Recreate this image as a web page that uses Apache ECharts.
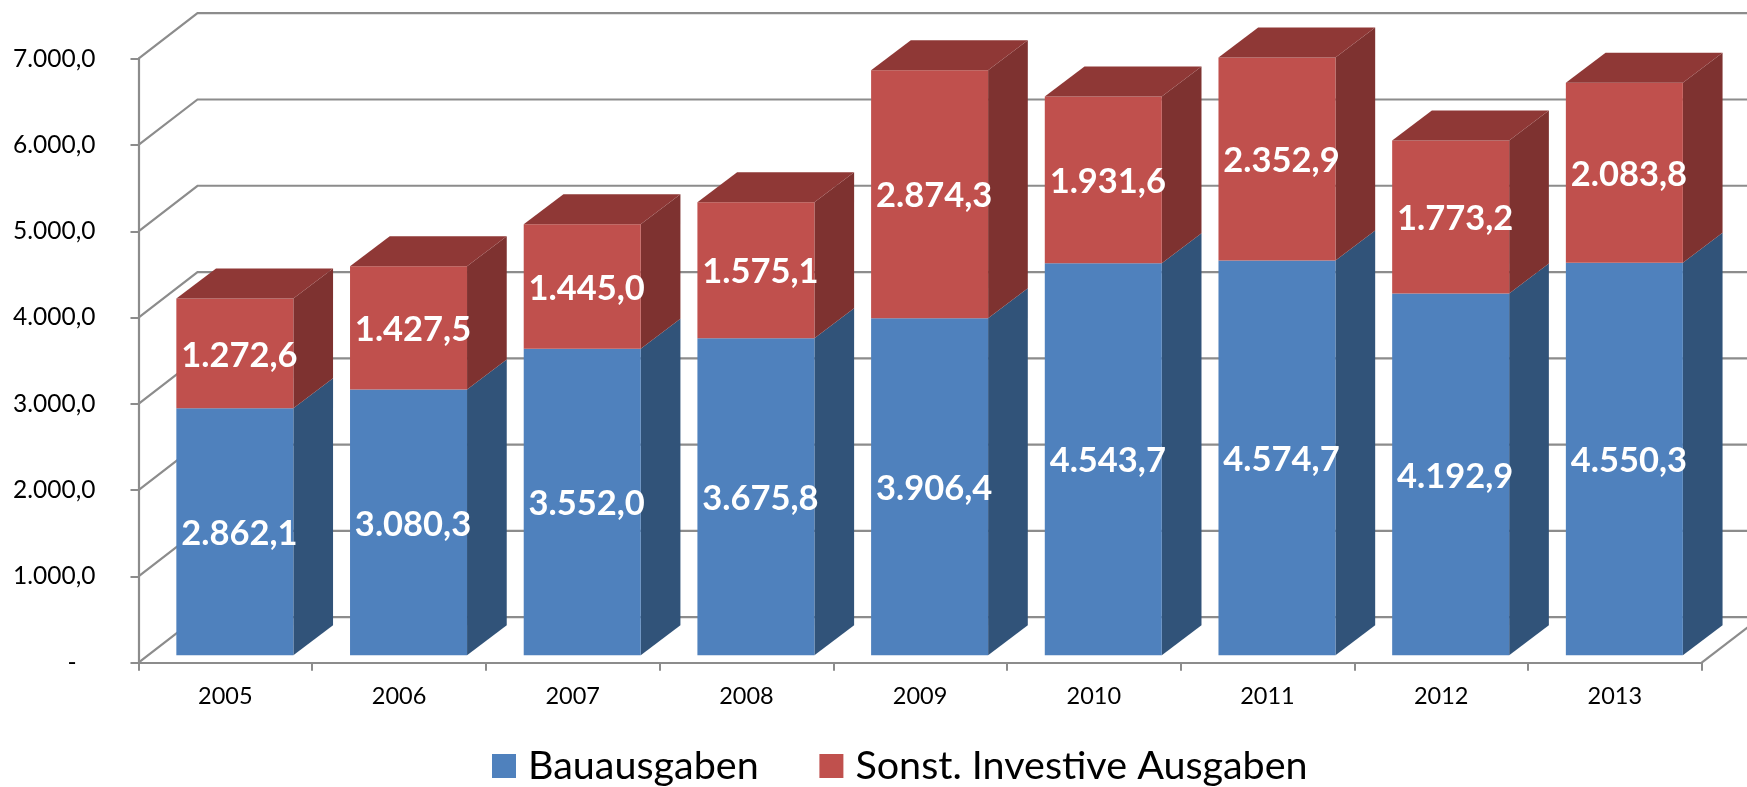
<!DOCTYPE html>
<html>
<head>
<meta charset="utf-8">
<style>html,body{margin:0;padding:0;background:#fff}#c{width:1747px;height:787px}</style>
<script src="https://cdn.jsdelivr.net/npm/echarts@6/dist/echarts.min.js"></script>
</head>
<body>
<div id="c"></div>
<script>
const categories = ['2005','2006','2007','2008','2009','2010','2011','2012','2013'];
const bauausgaben = [2862.1,3080.3,3552.0,3675.8,3906.4,4543.7,4574.7,4192.9,4550.3];
const sonstige = [1272.6,1427.5,1445.0,1575.1,2874.3,1931.6,2352.9,1773.2,2083.8];
const yTicks = [0,1000,2000,3000,4000,5000,6000,7000];
const yTickLabels = ['-   ','1.000,0','2.000,0','3.000,0','4.000,0','5.000,0','6.000,0','7.000,0'];

const FONT = 'Lato, Carlito, "Open Sans", sans-serif';
const GRAY = '#8c8c8c';
const WALL_DX = 59, WALL_DY = -45.5;      // depth of the chart box
const BAR_DX = 9.5, BAR_DY = -7.4;        // front face inset from the front plane
const DEPTH_DX = 39.7, DEPTH_DY = -30;    // depth of a bar
const BAR_W = 117;

function fmt(v){
  const s = v.toFixed(1).split('.');
  return s[0].replace(/\B(?=(\d{3})+$)/g,'.') + ',' + s[1];
}

function barRenderer(front, side, top, showTop){
  return function(params, api){
    const cat = api.value(0), base = api.value(1), val = api.value(2);
    const c0 = api.coord([cat, base]);
    const c1 = api.coord([cat, base + val]);
    const x0 = c0[0] + BAR_DX - BAR_W/2, x1 = x0 + BAR_W;
    const yb = c0[1] + BAR_DY, yt = c1[1] + BAR_DY;
    const kids = [
      {type:'polygon', shape:{points:[[x1,yb],[x1+DEPTH_DX,yb+DEPTH_DY],[x1+DEPTH_DX,yt+DEPTH_DY],[x1,yt]]}, style:{fill:side}},
      {type:'polygon', shape:{points:[[x0,yb],[x1,yb],[x1,yt],[x0,yt]]}, style:{fill:front}}
    ];
    if (showTop) kids.push({type:'polygon', shape:{points:[[x0,yt],[x1,yt],[x1+DEPTH_DX,yt+DEPTH_DY],[x0+DEPTH_DX,yt+DEPTH_DY]]}, style:{fill:top}});
    kids.push({type:'text', style:{x:(x0+x1)/2+4.5, y:(yb+yt)/2+2, text:fmt(val), fill:'#fff', align:'center', verticalAlign:'middle', font:'bold 34.5px '+FONT}});
    return {type:'group', children:kids};
  };
}

const wallRenderer = function(params, api){
  const v = api.value(0);
  const left = api.coord([0, v]);
  const size = api.size([1, 0]);
  const x0 = left[0] - size[0]/2;
  const xEnd = x0 + size[0]*categories.length;
  const lineStyle = {stroke:GRAY, lineWidth:2.2, fill:'none'};
  const kids = [
    {type:'polyline', shape:{points:[[x0,left[1]],[x0+WALL_DX,left[1]+WALL_DY],[xEnd+WALL_DX,left[1]+WALL_DY]]}, style:lineStyle}
  ];
  if (v === 0) kids.push({type:'line', shape:{x1:xEnd,y1:left[1],x2:xEnd+WALL_DX,y2:left[1]+WALL_DY}, style:lineStyle});
  return {type:'group', children:kids};
};

const chart = echarts.init(document.getElementById('c'), null, {renderer:'canvas'});
chart.setOption({
  animation:false,
  backgroundColor:'#fff',
  grid:{left:138.5, right:45.3, top:58.7, bottom:124.3, containLabel:false},
  legend:{
    left:487, top:741, itemWidth:24, itemHeight:24, itemGap:60.7, icon:'rect',
    data:['Bauausgaben','Sonst. Investive Ausgaben'],
    textStyle:{fontFamily:FONT, fontSize:39.5, color:'#000', padding:[0,0,0,7]}
  },
  xAxis:{
    type:'category', data:categories, boundaryGap:true,
    axisLine:{lineStyle:{color:GRAY,width:2.2}},
    axisTick:{show:true,alignWithLabel:false,length:8,lineStyle:{color:GRAY,width:2}},
    axisLabel:{fontFamily:FONT,fontSize:23.5,color:'#000',margin:22,interval:0}
  },
  yAxis:{
    type:'value', min:0, max:7000, interval:1000,
    axisLine:{show:true,lineStyle:{color:GRAY,width:2.2}},
    axisTick:{show:true,length:8,lineStyle:{color:GRAY,width:2}},
    splitLine:{show:false},
    axisLabel:{fontFamily:FONT,fontSize:24.5,color:'#000',margin:43,padding:[2,0,0,0],
      formatter:function(v){return yTickLabels[yTicks.indexOf(v)];}}
  },
  series:[
    {type:'custom', name:'wall', silent:true, clip:false, z:1, renderItem:wallRenderer,
      data:yTicks.map(v=>[v]), encode:{y:0}},
    {type:'custom', name:'Bauausgaben', clip:false, z:2, itemStyle:{color:'#4F81BD'},
      renderItem:barRenderer('#4F81BD','#315379','#3C648F',false),
      data:bauausgaben.map((v,i)=>[i,0,v]), encode:{x:0,y:2}},
    {type:'custom', name:'Sonst. Investive Ausgaben', clip:false, z:3, itemStyle:{color:'#C0504D'},
      renderItem:barRenderer('#C0504D','#7E3230','#8F3836',true),
      data:sonstige.map((v,i)=>[i,bauausgaben[i],v]), encode:{x:0,y:2}}
  ]
});
</script>
</body>
</html>
